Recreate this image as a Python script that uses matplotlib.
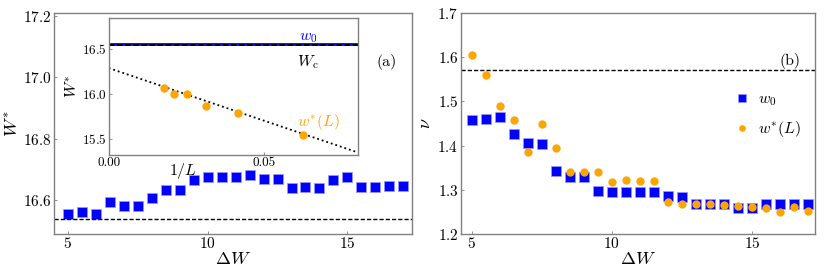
import matplotlib
matplotlib.use("Agg")
import matplotlib.pyplot as plt

plt.rcParams['font.family'] = 'serif'
plt.rcParams['font.serif'] = ['cmr10']
plt.rcParams['mathtext.fontset'] = 'cm'
plt.rcParams['axes.formatter.use_mathtext'] = True
plt.rcParams['axes.unicode_minus'] = False

# -- DATA --
dW = [5, 5.5, 6, 6.5, 7, 7.5, 8, 8.5, 9, 9.5, 10, 10.5, 11, 11.5, 12, 12.5,
      13, 13.5, 14, 14.5, 15, 15.5, 16, 16.5, 17]

# panel (a): w0 vs dW
w0_a = [16.554, 16.563, 16.556, 16.594, 16.581, 16.582, 16.609, 16.634, 16.634,
        16.667, 16.677, 16.677, 16.677, 16.683, 16.669, 16.669, 16.640, 16.643,
        16.640, 16.667, 16.677, 16.642, 16.642, 16.645, 16.645]
Wc = 16.54

# inset: w*(L) vs 1/L
L_sizes = [56, 48, 40, 32, 24, 16]
wstar_L = [16.059, 16.003, 16.003, 15.870, 15.786, 15.544]
fit_x = [0.0, 0.08]
fit_y = [16.285, 15.35]
w0_inset = 16.55

# panel (b): nu vs dW
nu_w0 = [1.459, 1.461, 1.464, 1.426, 1.406, 1.403, 1.343, 1.330, 1.329, 1.298,
         1.296, 1.295, 1.295, 1.295, 1.285, 1.284, 1.268, 1.268, 1.268, 1.260,
         1.259, 1.268, 1.268, 1.268, 1.268]
nu_wstar = [1.606, 1.560, 1.489, 1.457, 1.385, 1.448, 1.394, 1.340, 1.340, 1.341,
            1.317, 1.322, 1.321, 1.319, 1.272, 1.268, 1.268, 1.268, 1.266, 1.263,
            1.262, 1.259, 1.251, 1.262, 1.253]
nu_ref = 1.57
# -- -- -- --

blue = '#0000ff'
orange = '#ffa500'
spine_col = '#808080'
fs_tick = 11
fs_in = 9.5
fs_txt = 11.5
fs_lab = 13


def style(ax, size=fs_tick):
    for s in ax.spines.values():
        s.set_color(spine_col)
        s.set_linewidth(1.0)
    ax.tick_params(direction='in', length=2, width=0.6, color=spine_col,
                   labelsize=size, pad=1.5)


fig = plt.figure(figsize=(8.3, 2.77), dpi=100)

# ---- panel (a) ----
ax1 = fig.add_axes([0.065, 0.155, 0.431, 0.798])
ax1.plot(dW, w0_a, 's', color=blue, ms=6.5, mec='#9999ff', mew=0.5)
ax1.axhline(Wc, color='k', ls='--', lw=1.0, dashes=(3, 1.5))
ax1.set_xlim(4.5, 17.3)
ax1.set_ylim(16.49, 17.21)
ax1.set_xticks([5, 10, 15])
ax1.set_yticks([16.6, 16.8, 17.0, 17.2])
ax1.set_xlabel(r'$\Delta W$', fontsize=fs_lab, labelpad=0)
ax1.set_ylabel(r'$W^{*}$', fontsize=fs_lab, labelpad=1)
ax1.text(0.93, 0.78, '(a)', transform=ax1.transAxes, fontsize=fs_txt,
         ha='center', va='center')
style(ax1)

# inset
axi = fig.add_axes([0.131, 0.44, 0.300, 0.495])
axi.plot(fit_x, fit_y, ':', color='k', lw=1.3)
axi.axhline(w0_inset, color=blue, lw=2.0)
axi.axhline(Wc, color='k', ls='--', lw=1.3, dashes=(3, 1.5))
axi.plot([1.0 / L for L in L_sizes], wstar_L, 'o', color=orange, ms=6,
         mec='none')
axi.set_xlim(0, 0.08)
axi.set_ylim(15.32, 16.84)
axi.set_xticks([0.0, 0.05])
axi.set_xticklabels(['0.00', '0.05'])
axi.set_yticks([15.5, 16.0, 16.5])
axi.set_ylabel(r'$W^{*}$', fontsize=fs_txt, labelpad=1)
axi.set_xlabel(r'$1/L$', fontsize=fs_txt)
axi.xaxis.set_label_coords(0.3, -0.04)
axi.text(0.80, 0.855, r'$w_0$', transform=axi.transAxes, color=blue,
         fontsize=fs_txt, ha='center', va='center')
axi.text(0.80, 0.68, r'$W_{\rm c}$', transform=axi.transAxes, color='k',
         fontsize=fs_txt, ha='center', va='center')
axi.text(0.84, 0.24, r'$w^{*}(L)$', transform=axi.transAxes, color=orange,
         fontsize=fs_txt, ha='center', va='center')
style(axi, fs_in)

# ---- panel (b) ----
ax2 = fig.add_axes([0.555, 0.155, 0.427, 0.798])
ax2.plot(dW, nu_w0, 's', color=blue, ms=6.5, mec='#9999ff', mew=0.5,
         label=r'$w_0$')
ax2.plot(dW, nu_wstar, 'o', color=orange, ms=6, mec='none',
         label=r'$w^{*}(L)$')
ax2.axhline(nu_ref, color='k', ls='--', lw=1.0, dashes=(3, 1.5))
ax2.set_xlim(4.6, 17.26)
ax2.set_ylim(1.2, 1.7)
ax2.set_xticks([5, 10, 15])
ax2.set_yticks([1.2, 1.3, 1.4, 1.5, 1.6, 1.7])
ax2.set_xlabel(r'$\Delta W$', fontsize=fs_lab, labelpad=0)
ax2.set_ylabel(r'$\nu$', fontsize=fs_lab, labelpad=3)
ax2.text(0.93, 0.785, '(b)', transform=ax2.transAxes, fontsize=fs_txt,
         ha='center', va='center')
ax2.legend(loc='center right', bbox_to_anchor=(1.0, 0.535),
           frameon=False, fontsize=fs_txt, markerscale=0.8,
           handletextpad=0.4, handlelength=1.2, labelspacing=0.7)
style(ax2)

fig.savefig('out.png', dpi=100)
